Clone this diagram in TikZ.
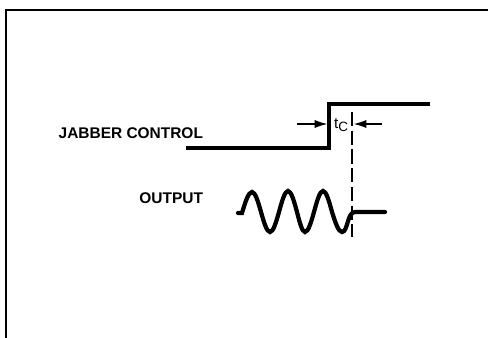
\documentclass[tikz,border=0pt]{standalone}
\usepackage{fontspec}
\setmainfont{Liberation Sans}
\usetikzlibrary{arrows.meta}

\begin{document}
\begin{tikzpicture}[x=0.03cm, y=-0.03cm, every node/.style={inner sep=0pt, outer sep=0pt},
        signame/.style={font=\fontsize{13.2}{15}\selectfont\bfseries, anchor=base east},
        signal/.style={line width=2.8pt, line join=miter},
        wave/.style={line width=3.6pt, line cap=round},
        dimarrow/.style={line width=1.2pt, -{Latex[length=11pt, width=7pt]}},
        marker/.style={line width=1.1pt, dash pattern=on 12pt off 4pt}]
        \useasboundingbox (0,0) rectangle (488,337);
        \draw[line width=1.8pt] (6,345) -- (6,10) -- (495,10);

        \node (jabber) [signame] at (203,138) {JABBER CONTROL};
        \node (output) [signame] at (203,203) {OUTPUT};

        \coordinate (lowstart) at (186,148);
        \coordinate (rise) at (329,148);
        \coordinate (risetop) at (329,104);
        \coordinate (highend) at (430,104);
        \draw[signal] (lowstart) -- (rise) -- (risetop) -- (highend);

        \coordinate (marktop) at (352,112);
        \coordinate (markbot) at (352,237);
        \draw[marker] (marktop) -- (markbot);

        \node (tc) at (341,125) {\fontsize{13}{15}\selectfont t\raisebox{-2pt}{\fontsize{11.5}{13}\selectfont C}};
        \coordinate (leftfrom) at (297,124);
        \coordinate (leftto) at (327.5,124);
        \coordinate (rightfrom) at (382,124);
        \coordinate (rightto) at (353.5,124);
        \draw[dimarrow] (leftfrom) -- (leftto);
        \draw[dimarrow] (rightfrom) -- (rightto);

        \coordinate (wavestart) at (238,213);
        \coordinate (waveend) at (385,212);
        \draw[wave] (wavestart) -- (242,213) sin (252,192) cos (261,212) sin (270,232)
            cos (279,212) sin (288,191) cos (297,212) sin (305,232)
            cos (314,212) sin (323,191) cos (332,212) sin (342,232)
            .. controls (348,232) and (347,212) .. (355,212) -- (waveend);
    \end{tikzpicture}
\end{document}
